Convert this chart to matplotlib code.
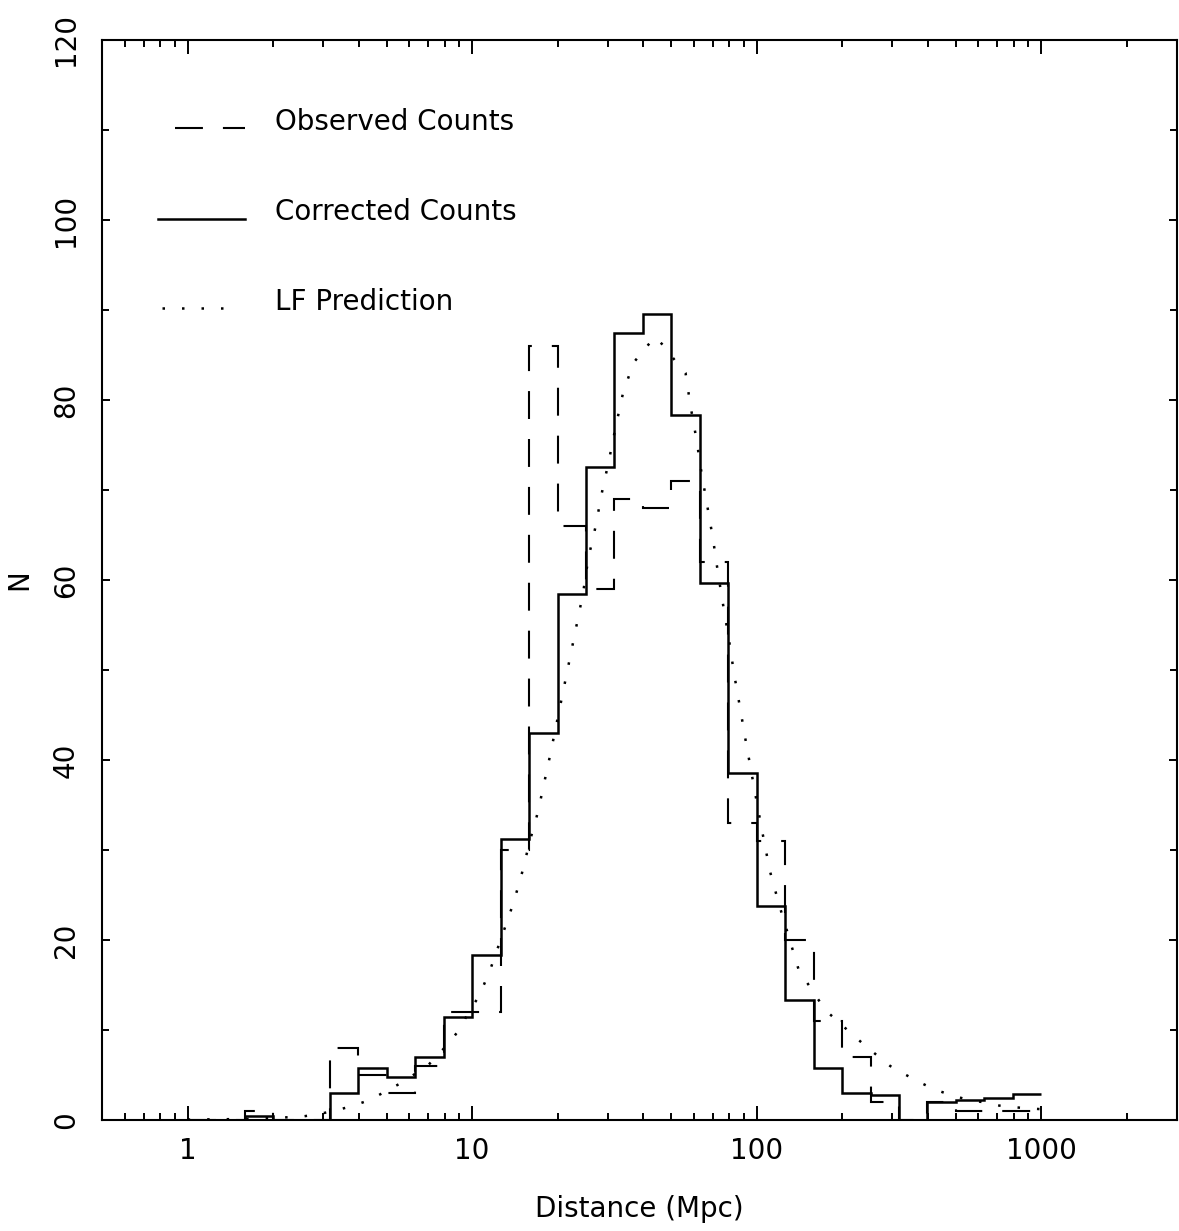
import numpy as np
import matplotlib
matplotlib.use("Agg")
import matplotlib.pyplot as plt
from matplotlib.ticker import FixedLocator, NullFormatter, FixedFormatter

# ---- data ----
# histogram bins: 0.1 dex from 1 to 1000 Mpc
bin_edges = np.logspace(0, 3, 31)

observed_counts = [0, 0, 1, 0, 0, 8, 5, 3, 6, 12,
                   12, 30, 86, 66, 59, 69, 68, 71, 62, 33,
                   31, 20, 11, 7, 2, 0, 2, 1, 1, 1]

corrected_counts = [0, 0, 0.5, 0, 0, 3.0, 5.75, 4.8, 7.0, 11.4,
                    18.3, 31.2, 43.0, 58.4, 72.6, 87.5, 89.6, 78.3, 59.7, 38.6,
                    23.8, 13.3, 5.75, 3.0, 2.8, 0, 2.0, 2.2, 2.5, 2.9]

lf_distance = [1.0, 1.50, 1.96, 2.55, 2.93, 3.36, 3.82, 4.35, 4.91, 5.54,
               6.21, 7.01, 7.66, 8.37, 9.08, 9.68, 10.39, 11.02, 11.63, 12.14,
               12.72, 13.27, 13.89, 14.47, 14.98, 15.47, 15.97, 16.64, 17.18, 18.78,
               20.53, 22.44, 24.52, 25.59, 27.17, 28.52, 30.25, 31.93, 33.80, 36.81,
               40.24, 43.86, 47.56, 51.84, 56.22, 58.54, 61.44, 63.97, 67.14, 70.26,
               73.15, 76.41, 79.94, 83.24, 87.17, 91.28, 95.82, 100.6, 105.8, 111.4,
               119.7, 129.5, 140.1, 150.1, 162.0, 175.6, 194.0, 214.9, 237.9, 264.3,
               294.5, 330.5, 373.3, 421.4, 478.3, 544.2, 626.1, 712.3, 815.2, 1000.0]
lf_counts = [0.05, 0.1, 0.2, 0.4, 0.7, 1.1, 1.6, 2.2, 3.1, 4.0,
             5.0, 6.1, 7.4, 8.7, 10.2, 11.9, 13.4, 15.1, 16.9, 18.6,
             20.4, 22.1, 23.9, 25.8, 27.5, 29.3, 31.1, 33.0, 34.8, 40.5,
             46.5, 52.5, 58.5, 62.4, 66.0, 69.6, 73.3, 77.0, 80.6, 84.1,
             85.6, 87.0, 85.9, 84.3, 83.0, 79.3, 75.6, 71.9, 68.1, 64.5,
             60.7, 57.0, 53.3, 49.6, 46.0, 42.3, 38.6, 34.9, 31.2, 27.6,
             24.0, 20.4, 16.8, 15.3, 13.7, 12.1, 10.9, 9.6, 8.4, 7.2,
             6.0, 5.1, 4.2, 3.4, 2.8, 2.3, 1.97, 1.6, 1.4, 1.2]

legend_labels = ["Observed Counts", "Corrected Counts", "LF Prediction"]
x_major_ticks = [1, 10, 100, 1000]
x_major_labels = ["1", "10", "100", "1000"]
y_major_ticks = [0, 20, 40, 60, 80, 100, 120]

# ---- style ----
plt.rcParams['font.family'] = ['DejaVu Sans']
FS = 20
LW = 1.5
DASH = (0, (13.4, 9.6))
DOT_LW = 1.8
DOT = (0, (1.0, 6.8))

fig = plt.figure(figsize=(11.79, 12.31), dpi=100)
ax = fig.add_axes([102/1179, 1 - 1120/1231, 1075/1179, 1080/1231])

ax.stairs(observed_counts, bin_edges, baseline=None, color='black', lw=LW, linestyle=DASH)
ax.stairs(corrected_counts, bin_edges, baseline=None, color='black', lw=LW + 0.3)
ax.plot(lf_distance, lf_counts, color='black', lw=DOT_LW, linestyle=DOT)

ax.set_xscale('log')
ax.set_xlim(0.5, 3000)
ax.set_ylim(0, 120)

ax.xaxis.set_major_locator(FixedLocator(x_major_ticks))
ax.xaxis.set_major_formatter(FixedFormatter(x_major_labels))
minor = [m * 10.0**d for d in range(-1, 4) for m in range(2, 10)]
minor = [v for v in minor if 0.5 <= v <= 3000]
ax.xaxis.set_minor_locator(FixedLocator(minor))
ax.xaxis.set_minor_formatter(NullFormatter())

ax.yaxis.set_major_locator(FixedLocator(y_major_ticks))
ax.yaxis.set_minor_locator(FixedLocator(list(range(10, 120, 20))))

ax.tick_params(axis='both', which='both', direction='in', top=True, right=True,
               width=1.4, colors='black', labelsize=FS)
ax.tick_params(axis='x', which='major', length=10, pad=12)
ax.tick_params(axis='x', which='minor', length=5)
ax.tick_params(axis='y', which='major', length=6, pad=16)
ax.tick_params(axis='y', which='minor', length=5)
for lab in ax.get_yticklabels():
    lab.set_rotation(90)
    lab.set_va('center')
    lab.set_ha('right')

for sp in ax.spines.values():
    sp.set_linewidth(1.5)

ax.set_xlabel("Distance (Mpc)", fontsize=FS, labelpad=22)
ax.set_ylabel("N", fontsize=FS)
ax.yaxis.set_label_coords(-0.064, 0.5)

# legend (drawn by hand, samples at text baseline)
def fx(px):
    return (px - 102) / 1075
def fy(py):
    return (1120 - py) / 1080

ax.plot([fx(175), fx(245)], [fy(128), fy(128)], transform=ax.transAxes,
        color='black', lw=LW, linestyle=DASH)
ax.plot([fx(158), fx(245)], [fy(219), fy(219)], transform=ax.transAxes,
        color='black', lw=LW + 0.3)
ax.plot([fx(162), fx(240)], [fy(308), fy(308)], transform=ax.transAxes,
        color='black', lw=DOT_LW, linestyle=DOT)
for lbl, py in zip(legend_labels, [130, 220, 310]):
    ax.text(fx(275), fy(py), lbl, transform=ax.transAxes, fontsize=FS,
            ha='left', va='baseline')

fig.savefig("out.png", dpi=100)
